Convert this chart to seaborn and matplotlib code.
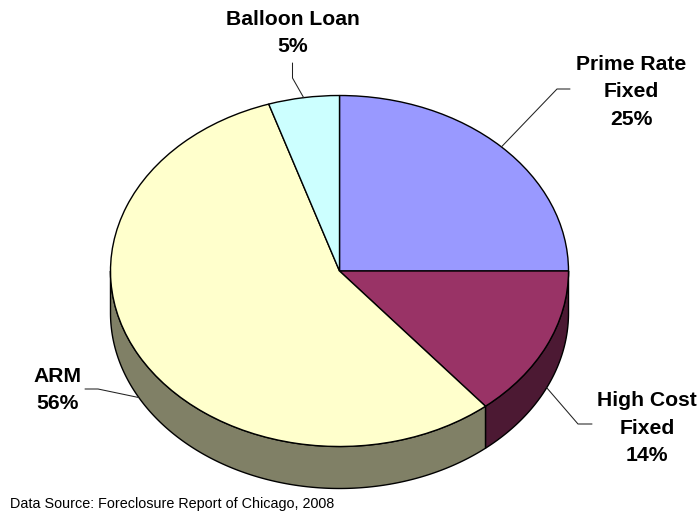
import numpy as np
import matplotlib
matplotlib.use("Agg")
import matplotlib.pyplot as plt
import seaborn as sns

# ---- data ----
categories = ["Prime Rate\nFixed", "High Cost\nFixed", "ARM", "Balloon Loan"]
values = [25, 14, 56, 5]
top_colors = ["#9999FF", "#993366", "#FFFFCC", "#CCFFFF"]
side_colors = ["#4C4C80", "#4C1933", "#808066", "#668080"]
source_text = "Data Source: Foreclosure Report of Chicago, 2008"

sns.set_theme(style="white")
plt.rcParams['font.family'] = ['Liberation Sans', 'DejaVu Sans']

W, H = 699, 512
fig = plt.figure(figsize=(W / 100, H / 100), dpi=100)
ax = fig.add_axes([0, 0, 1, 1])

# pixel geometry of the tilted pie
CX, CY, RX, RY = 339.5, 271.0, 229.0, 175.5
DEPTH = 42.0 / RY


def X(px):
    return (px - CX) / RX


def Y(py):
    return (CY - py) / RY


# angles of each wedge (clockwise from 12 o'clock)
fr = np.array(values, dtype=float) / sum(values)
cum = np.concatenate([[0], np.cumsum(fr)])
starts = 90 - cum[:-1] * 360
ends = 90 - cum[1:] * 360

# side walls (front half only)
for i in range(len(values)):
    lo, hi = ends[i], starts[i]
    for k in (-1, 0, 1):
        a = max(lo, 180 + 360 * k)
        b = min(hi, 360 + 360 * k)
        if a < b:
            t = np.radians(np.linspace(a, b, 200))
            xs = np.concatenate([np.cos(t), np.cos(t[::-1])])
            ys = np.concatenate([np.sin(t), np.sin(t[::-1]) - DEPTH])
            ax.fill(xs, ys, facecolor=side_colors[i], edgecolor="black",
                    linewidth=1.0, zorder=1, joinstyle="round")

wedges, _ = ax.pie(values, startangle=90, counterclock=False,
                   colors=top_colors, radius=1, center=(0, 0),
                   wedgeprops=dict(edgecolor="black", linewidth=1.0))
for w in wedges:
    w.set_zorder(2)

ax.set_aspect("auto")
ax.set_xlim(X(0), X(W))
ax.set_ylim(Y(H), Y(0))
ax.axis("off")

# labels with leader lines
label_pos = [(631, 92), (647, 428), (57, 390), (293, 33)]
elbows = [[(557, 89), (570, 89)],
          [(578, 424), (592, 424)],
          [(98, 389), (85, 389)],
          [(292.5, 78), (292.5, 63)]]
for i in range(len(values)):
    m = np.radians((starts[i] + ends[i]) / 2)
    axp, ayp = np.cos(m), np.sin(m)
    if ayp < 0:
        ayp -= DEPTH
    xs = [axp] + [X(p[0]) for p in elbows[i]]
    ys = [ayp] + [Y(p[1]) for p in elbows[i]]
    ax.plot(xs, ys, color="#222222", linewidth=0.75, zorder=3)
    txt = f"{categories[i]}\n{values[i]}%"
    ax.text(X(label_pos[i][0]), Y(label_pos[i][1]), txt, ha="center",
            va="center", fontsize=15.2, fontweight="bold", linespacing=1.55,
            color="black", zorder=4)

ax.text(X(10), Y(504), source_text, ha="left", va="center",
        fontsize=10.4, color="black")

fig.savefig("out.png", dpi=100, facecolor="white")
